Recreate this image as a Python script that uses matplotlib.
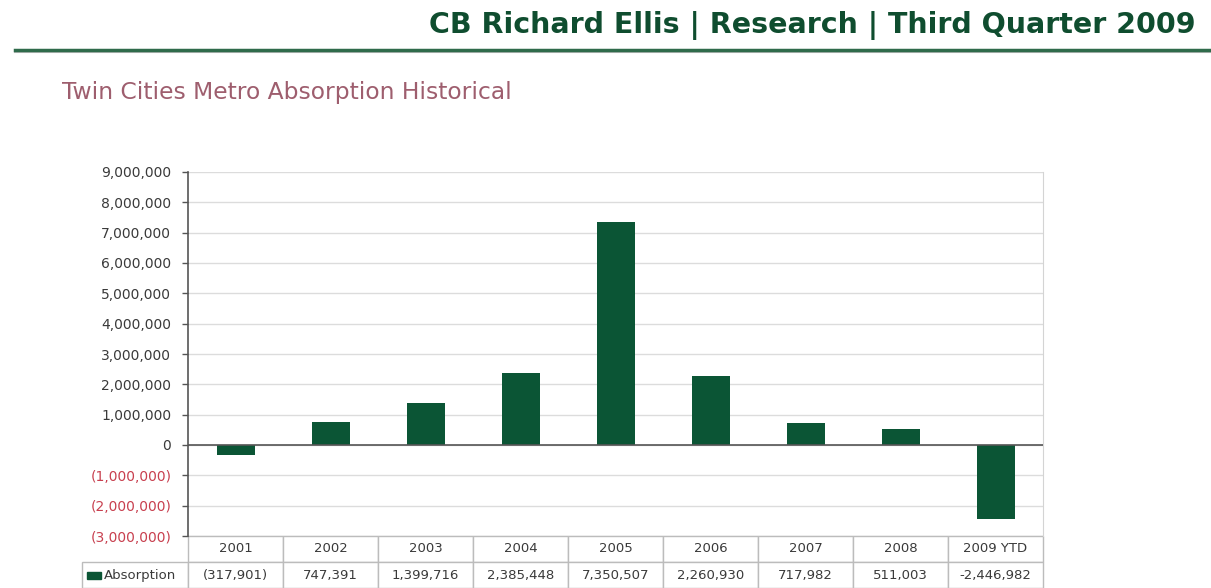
import matplotlib
matplotlib.use("Agg")
import matplotlib.pyplot as plt
from matplotlib.table import Table
from matplotlib.patches import Rectangle
from matplotlib.ticker import FuncFormatter

# Data
years = ['2001', '2002', '2003', '2004', '2005', '2006', '2007', '2008', '2009 YTD']
absorption = [-317901, 747391, 1399716, 2385448, 7350507, 2260930, 717982, 511003, -2446982]
yticks = list(range(-3000000, 9000001, 1000000))

green = '#0b5535'
title_green = '#0f4d2f'
sub_color = '#9e5e6e'
neg_red = '#c8404f'
text_gray = '#3a3a3a'

fig = plt.figure(figsize=(12.11, 5.88), dpi=100)
fig.patch.set_facecolor('white')

# header
fig.text(1196 / 1211, 1 - 33 / 588, 'CB Richard Ellis | Research | Third Quarter 2009',
         ha='right', va='baseline', fontsize=20.5, fontweight='bold', color=title_green)
fig.add_artist(plt.Line2D([15 / 1211, 1], [1 - 52 / 588] * 2, color='#bdbdbd', lw=1.5))
fig.add_artist(plt.Line2D([15 / 1211, 1], [1 - 50 / 588] * 2, color='#2f6b4b', lw=2.5))
fig.text(62 / 1211, 1 - 99 / 588, 'Twin Cities Metro Absorption Historical',
         ha='left', va='baseline', fontsize=16.8, color=sub_color)

ax = fig.add_axes([188 / 1211, 52 / 588, 855 / 1211, 364 / 588])
x = list(range(len(years)))
ax.bar(x, absorption, width=0.4, color=green, zorder=3)
ax.set_xlim(-0.5, len(years) - 0.5)
ax.set_ylim(-3000000, 9000000)
ax.set_yticks(yticks)
ax.yaxis.set_major_formatter(FuncFormatter(
    lambda v, p: f'({abs(int(v)):,})' if v < 0 else f'{int(v):,}'))
ax.set_xticks([])
ax.grid(axis='y', color='#dcdcdc', lw=1.0, zorder=0)
ax.axhline(0, color='#555555', lw=1.2, zorder=4)
ax.tick_params(axis='y', direction='out', length=4, width=1, color='#555555',
               labelsize=10, pad=8)
for lbl, v in zip(ax.get_yticklabels(), yticks):
    lbl.set_color(neg_red if v < 0 else text_gray)
ax.spines['top'].set_visible(False)
ax.spines['bottom'].set_visible(False)
ax.spines['left'].set_color('#555555')
ax.spines['left'].set_linewidth(1.2)
ax.spines['right'].set_color('#d4d4d4')

# data table under the plot (label column sits left of the grid bbox)
label_w = 106 / 855
col_w = 1 / len(years)
row_h = 26 / 364
tab = Table(ax, bbox=[0, -2 * row_h, 1, 2 * row_h])
c = tab.add_cell(0, -1, label_w, row_h, text='', loc='center')
c.visible_edges = ''
for i, yr in enumerate(years):
    c = tab.add_cell(0, i, col_w, row_h, text=yr, loc='center')
    c.set_edgecolor('#bcbcbc')
    c.get_text().set_color(text_gray)
c = tab.add_cell(1, -1, label_w, row_h, text='', loc='center')
c.set_edgecolor('#bcbcbc')
for i, (yr, v) in enumerate(zip(years, absorption)):
    if v < 0 and yr != '2009 YTD':
        s = f'({abs(v):,})'
    else:
        s = f'{v:,}'
    c = tab.add_cell(1, i, col_w, row_h, text=s, loc='center')
    c.set_edgecolor('#bcbcbc')
    c.get_text().set_color(text_gray)
tab.auto_set_font_size(False)
tab.set_fontsize(9.5)
ax.add_table(tab)

# legend key inside the label cell
ax.add_patch(Rectangle((-101 / 855, -1.5 * row_h - 3.5 / 364), 14 / 855, 7 / 364,
                       transform=ax.transAxes, color=green, clip_on=False))
ax.text(-84 / 855, -1.5 * row_h, 'Absorption', transform=ax.transAxes,
        ha='left', va='center', fontsize=9.5, color=text_gray)

fig.savefig('out.png', dpi=100)
